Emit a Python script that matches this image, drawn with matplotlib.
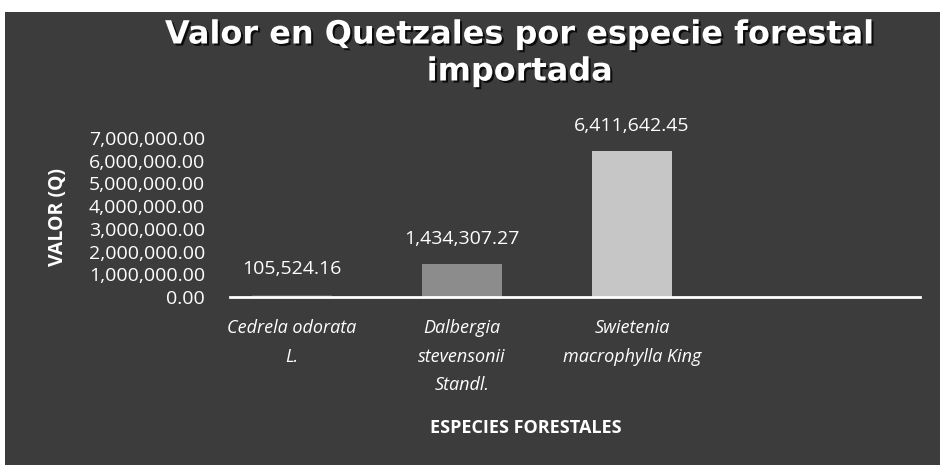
import matplotlib
matplotlib.use("Agg")
import matplotlib.pyplot as plt
from matplotlib.patches import Rectangle
from matplotlib.ticker import FuncFormatter
import matplotlib.patheffects as pe

categories = ["Cedrela odorata\nL.", "Dalbergia\nstevensonii\nStandl.", "Swietenia\nmacrophylla King"]
values = [105524.16, 1434307.27, 6411642.45]
bar_colors = ["#5a5a5a", "#8c8c8c", "#c6c6c6"]
yticks = [0, 1000000, 2000000, 3000000, 4000000, 5000000, 6000000, 7000000]

W, H = 940, 474
fig = plt.figure(figsize=(W / 100, H / 100), dpi=100)
fig.patch.set_facecolor("white")
fig.patches.append(Rectangle((5 / W, 9 / H), 1 - 5 / W, 1 - 21 / H,
                             transform=fig.transFigure, facecolor="#3c3c3c",
                             edgecolor="none", zorder=-10))

ax = fig.add_axes([230 / W, 1 - 297 / H, 690 / W, 159 / H])
ax.set_zorder(2)
ax.set_facecolor("none")
x = list(range(len(categories)))
bars = ax.bar(x, values, width=0.47, color=bar_colors, zorder=2)
ax.set_xlim(-0.365, 3.694)
ax.set_ylim(0, 7000000)
ax.set_yticks(yticks)
ax.yaxis.set_major_formatter(FuncFormatter(lambda v, p: f"{v:,.2f}"))
ax.set_xticks(x)
ax.set_xticklabels(categories, fontstyle="italic", fontsize=13, color="white",
                   family="Open Sans", linespacing=1.75)
for lab in ax.get_yticklabels():
    lab.set_family("Open Sans")
ax.tick_params(axis="y", length=0, pad=18, labelsize=14, labelcolor="white")
ax.tick_params(axis="x", length=0, pad=16)
for s in ["top", "right", "left"]:
    ax.spines[s].set_visible(False)
ax.spines["bottom"].set_color("white")
ax.spines["bottom"].set_linewidth(2)

for b, v in zip(bars, values):
    ax.annotate(f"{v:,.2f}", (b.get_x() + b.get_width() / 2, v),
                xytext=(0, 12), textcoords="offset points", ha="center", va="bottom",
                color="white", fontsize=14, family="Open Sans")

ax.set_ylabel("VALOR (Q)", color="white", fontsize=14, fontweight="bold",
              family="Open Sans")
ax.yaxis.set_label_coords(-(230 - 58) / 690, 0.5)
ax.set_xlabel("ESPECIES FORESTALES", color="white", fontsize=13, fontweight="bold",
              family="Open Sans")
ax.xaxis.set_label_coords((526 - 230) / 690, -(428 - 297) / 159)
ax.xaxis.label.set_va("center")
ax.yaxis.label.set_va("center")

shadow = [pe.withSimplePatchShadow(offset=(1.5, -1.5), shadow_rgbFace="black", alpha=0.8)]
fig.text(0.553, 1 - 35 / H, "Valor en Quetzales por especie forestal", ha="center", va="center",
         color="white", fontsize=23, fontweight="bold", family="DejaVu Sans",
         path_effects=shadow, zorder=3)
fig.text(0.553, 1 - 72 / H, "importada", ha="center", va="center",
         color="white", fontsize=23, fontweight="bold", family="DejaVu Sans",
         path_effects=shadow, zorder=3)

fig.savefig("out.png", dpi=100)
